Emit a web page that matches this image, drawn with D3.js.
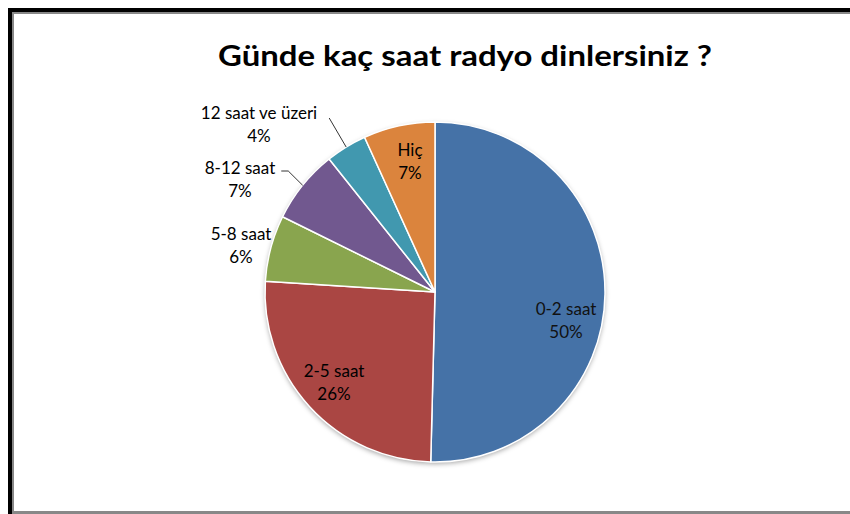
<!DOCTYPE html>
<html>
<head>
<meta charset="utf-8">
<script src="https://cdn.jsdelivr.net/npm/d3@7"></script>
<style>
	html, body { margin: 0; padding: 0; background: #fff; }
	svg { display: block; }
</style>
</head>
<body>
<div class="chart"></div>
<script>
// =================================================
// data
// =================================================
var categories = ["0-2 saat", "2-5 saat", "5-8 saat", "8-12 saat", "12 saat ve üzeri", "Hiç"];
var values = [50.4, 25.6, 6.3, 7.0, 3.9, 6.8];
var colors = ["#4572A7", "#AA4643", "#89A54E", "#71588F", "#4198AF", "#DB843D"];
var title = "Günde kaç saat radyo dinlersiniz ?";

// label anchors (first baseline), offset from pie centre; leader: 0 none, 1 straight, 2 with elbow
var labelLayout = [
	{dx: 131, dy: 23, leader: 0},
	{dx: -101, dy: 85, leader: 0},
	{dx: -194, dy: -52, leader: 0},
	{dx: -195, dy: -118, leader: 2},
	{dx: -176, dy: -173, leader: 1},
	{dx: -25, dy: -136, leader: 0}
];

(function() {
	var width = 850,
		height = 514,
		cx = 435,
		cy = 292,
		R = 170;

	var svg = d3.select(".chart").append("svg")
		.attr("width", width)
		.attr("height", height);

	var defs = svg.append("defs");
	var f = defs.append("filter").attr("id", "shadow")
		.attr("x", "-20%").attr("y", "-20%").attr("width", "140%").attr("height", "140%");
	f.append("feDropShadow")
		.attr("dx", 0).attr("dy", 2)
		.attr("stdDeviation", 2.5)
		.attr("flood-color", "#000")
		.attr("flood-opacity", 0.35);

	// frame
	svg.append("rect").attr("x", 8).attr("y", 8).attr("width", width - 8).attr("height", 4).attr("fill", "#000");
	svg.append("rect").attr("x", 12).attr("y", 12).attr("width", width - 12).attr("height", 2).attr("fill", "#888");
	svg.append("rect").attr("x", 8).attr("y", 8).attr("width", 4).attr("height", height - 8).attr("fill", "#000");
	svg.append("rect").attr("x", 12).attr("y", 12).attr("width", 2).attr("height", height - 12).attr("fill", "#888");
	svg.append("rect").attr("x", 12).attr("y", 511).attr("width", width - 12).attr("height", 3).attr("fill", "#888");

	// title
	svg.append("text")
		.attr("x", 465)
		.attr("y", 66)
		.attr("text-anchor", "middle")
		.attr("textLength", 494)
		.attr("lengthAdjust", "spacingAndGlyphs")
		.style("font-family", "Lato, 'Open Sans', sans-serif")
		.style("font-weight", "bold")
		.style("font-size", "29px")
		.style("fill", "#000")
		.text(title);

	var pie = d3.pie().sort(null).value(function(d) { return d; });
	var arcs = pie(values);
	var arc = d3.arc().innerRadius(0).outerRadius(R);
	var rim = d3.arc().innerRadius(R).outerRadius(R);

	var g = svg.append("g").attr("transform", "translate(" + cx + "," + cy + ")");

	g.append("circle").attr("r", R).attr("fill", "#fff").attr("filter", "url(#shadow)");

	g.selectAll("path.slice")
		.data(arcs)
		.enter().append("path")
		.attr("class", "slice")
		.attr("d", arc)
		.attr("fill", function(d, i) { return colors[i]; })
		.attr("stroke", "#fff")
		.attr("stroke-width", 1.5)
		.attr("stroke-linejoin", "round");

	// labels
	var lab = g.selectAll("g.lab")
		.data(arcs)
		.enter().append("g")
		.attr("class", "lab")
		.attr("transform", function(d, i) {
			return "translate(" + labelLayout[i].dx + "," + labelLayout[i].dy + ")";
		});

	var t = lab.append("text")
		.attr("text-anchor", "middle")
		.style("font-family", "Lato, 'Open Sans', sans-serif")
		.style("font-size", "17px")
		.style("fill", function(d, i) { return i === 0 ? "#111" : "#000"; });
	t.append("tspan").attr("x", 0).attr("y", 0)
		.text(function(d, i) { return categories[i]; });
	t.append("tspan").attr("x", 0).attr("y", 23)
		.text(function(d) { return Math.round(d.value) + "%"; });

	// leader lines
	t.each(function(d, i) {
		var kind = labelLayout[i].leader;
		if (!kind) return;
		var w = this.firstChild.getComputedTextLength(),
			x0 = labelLayout[i].dx + w / 2 + (kind === 2 ? 6 : 12),
			y0 = labelLayout[i].dy - (kind === 2 ? 3 : 1),
			p = rim.centroid(d),
			pts = kind === 2 ? [[x0, y0], [x0 + 7, y0], p] : [[x0, y0], p];
		g.append("polyline")
			.attr("points", pts.join(" "))
			.attr("fill", "none")
			.attr("stroke", "#000")
			.attr("stroke-width", 0.8);
	});
})();
</script>
</body>
</html>
